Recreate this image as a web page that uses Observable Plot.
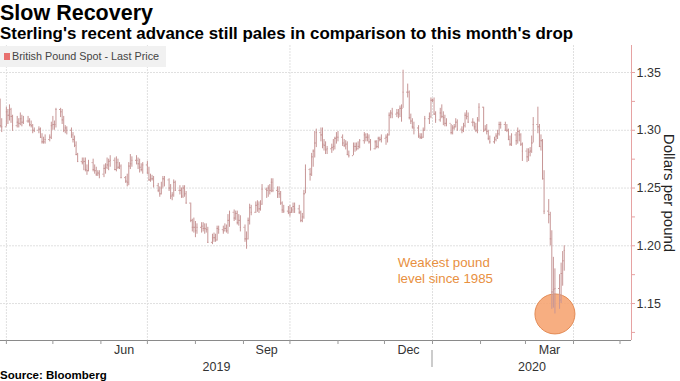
<!DOCTYPE html>
<html>
<head>
<meta charset="utf-8">
<script src="https://cdn.jsdelivr.net/npm/d3@7"></script>
<script src="https://cdn.jsdelivr.net/npm/@observablehq/plot@0.6"></script>
<style>
  html, body { margin: 0; padding: 0; background: #fff; }
  #wrap { position: relative; width: 680px; height: 381px; overflow: hidden; font-family: "Liberation Sans", Arial, sans-serif; color: #000; }
  #title { position: absolute; left: 0; top: 3px; font-weight: bold; font-size: 21.5px; line-height: 1; white-space: nowrap; }
  #sub { position: absolute; left: 0; top: 25.5px; font-weight: bold; font-size: 16.9px; line-height: 1; white-space: nowrap; }
  #chart { position: absolute; left: 0; top: 44px; }
  #legend { position: absolute; left: 0; top: 46px; width: 166px; height: 21px; background: #f1f1f1; font-size: 10.8px; line-height: 21px; color: #444; padding-left: 12px; box-sizing: border-box; white-space: nowrap; }
  #legend .sw { position: absolute; left: 4px; top: 7px; width: 6px; height: 7px; background: #e8706e; }
  #source { position: absolute; left: 0; top: 369px; font-weight: bold; font-size: 11.5px; line-height: 12px; white-space: nowrap; }
</style>
</head>
<body>
<div id="wrap">
  <div id="title">Slow Recovery</div>
  <div id="sub">Sterling's recent advance still pales in comparison to this month's drop</div>
  <div id="chart"></div>
  <div id="legend"><span class="sw"></span>British Pound Spot - Last Price</div>
  <div id="source">Source: Bloomberg</div>
</div>
<script>
// ---- Data: GBP/USD daily bars, weekdays 2019-03-28 .. 2020-03-26 ----
const firstOpen = 1.321;
const close = [
  1.304,1.303,
  1.316,1.313,1.318,1.312,1.304,
  1.307,1.306,1.310,1.307,1.308,
  1.308,1.305,1.304,1.300,1.300,
  1.301,1.294,1.290,1.290,1.292,
  1.294,1.304,1.305,1.305,1.318,
  1.316,1.309,1.300,1.302,1.300,
  1.296,1.292,1.287,1.279,1.273,
  1.272,1.273,1.266,1.265,1.272,
  1.266,1.265,1.262,1.263,1.262,
  1.267,1.268,1.270,1.273,1.274,
  1.266,1.272,1.268,1.269,1.259,
  1.256,1.255,1.269,1.271,1.274,
  1.274,1.271,1.268,1.266,1.270,
  1.263,1.257,1.258,1.258,1.252,
  1.248,1.245,1.250,1.258,1.257,
  1.250,1.243,1.244,1.255,1.248,
  1.248,1.243,1.250,1.245,1.237,
  1.222,1.216,1.216,1.213,1.216,
  1.217,1.215,1.215,1.214,1.203,
  1.207,1.207,1.205,1.215,1.214,
  1.213,1.215,1.213,1.222,1.229,
  1.224,1.228,1.220,1.222,1.216,
  1.206,1.206,1.222,1.233,1.229,
  1.235,1.236,1.232,1.236,1.249,
  1.248,1.250,1.248,1.255,1.248,
  1.247,1.245,1.237,1.231,1.230,
  1.229,1.229,1.231,1.234,1.232,
  1.229,1.222,1.225,1.245,1.266,
  1.262,1.277,1.282,1.289,1.298,
  1.296,1.288,1.287,1.283,1.284,
  1.285,1.286,1.293,1.294,1.294,
  1.289,1.287,1.288,1.279,1.278,
  1.286,1.286,1.284,1.286,1.291,
  1.296,1.294,1.294,1.290,1.284,
  1.290,1.286,1.293,1.292,1.293,
  1.294,1.296,1.313,1.315,1.314,
  1.315,1.314,1.319,1.319,1.333,
  1.333,1.311,1.308,1.303,1.302,
  1.295,1.294,1.294,1.300,1.310,
  1.312,1.326,1.326,1.314,1.309,
  1.315,1.312,1.311,1.306,1.306,
  1.298,1.302,1.303,1.307,1.301,
  1.300,1.304,1.313,1.312,1.307,
  1.307,1.303,1.300,1.309,1.320,
  1.300,1.301,1.299,1.293,1.290,
  1.292,1.295,1.297,1.305,1.305,
  1.300,1.300,1.292,1.288,1.296,
  1.291,1.299,1.296,1.288,1.282,
  1.277,1.281,1.282,1.289,1.305,
  1.303,1.286,1.291,1.258,1.230,
  1.227,1.206,1.160,1.162,1.163,
  1.153,1.176,1.187,1.196
];
const high = [
  1.327,1.310,
  1.320,1.318,1.322,1.319,1.313,
  1.312,1.310,1.315,1.313,1.312,
  1.312,1.310,1.308,1.305,1.302,
  1.303,1.302,1.297,1.294,1.296,
  1.296,1.307,1.312,1.308,1.319,
  1.319,1.318,1.312,1.304,1.303,
  1.302,1.298,1.295,1.290,1.280,
  1.276,1.276,1.276,1.270,1.274,
  1.275,1.270,1.268,1.265,1.265,
  1.270,1.271,1.276,1.275,1.278,
  1.276,1.277,1.275,1.272,1.270,
  1.260,1.262,1.272,1.279,1.277,
  1.278,1.276,1.275,1.271,1.272,
  1.273,1.268,1.262,1.261,1.260,
  1.254,1.251,1.255,1.260,1.260,
  1.258,1.253,1.246,1.257,1.256,
  1.252,1.250,1.252,1.252,1.247,
  1.237,1.223,1.224,1.221,1.219,
  1.220,1.220,1.219,1.219,1.216,
  1.210,1.211,1.210,1.217,1.217,
  1.217,1.219,1.218,1.227,1.230,
  1.231,1.230,1.230,1.227,1.226,
  1.218,1.212,1.224,1.236,1.235,
  1.238,1.239,1.238,1.239,1.253,
  1.250,1.252,1.253,1.258,1.258,
  1.251,1.251,1.247,1.238,1.235,
  1.234,1.235,1.233,1.237,1.237,
  1.235,1.230,1.228,1.248,1.270,
  1.267,1.280,1.283,1.299,1.301,
  1.302,1.302,1.292,1.290,1.286,
  1.288,1.292,1.294,1.298,1.299,
  1.296,1.292,1.291,1.290,1.282,
  1.289,1.289,1.289,1.290,1.292,
  1.298,1.297,1.297,1.296,1.292,
  1.291,1.291,1.294,1.294,1.296,
  1.296,1.297,1.315,1.317,1.319,
  1.318,1.318,1.321,1.322,1.352,
  1.340,1.334,1.314,1.310,1.307,
  1.304,1.297,1.297,1.302,1.312,
  1.315,1.328,1.327,1.328,1.316,
  1.319,1.322,1.316,1.313,1.310,
  1.305,1.304,1.305,1.310,1.309,
  1.303,1.306,1.315,1.317,1.315,
  1.310,1.307,1.306,1.311,1.323,
  1.320,1.304,1.305,1.300,1.295,
  1.294,1.297,1.300,1.307,1.307,
  1.307,1.305,1.301,1.295,1.297,
  1.298,1.302,1.300,1.297,1.289,
  1.284,1.284,1.285,1.295,1.311,
  1.320,1.305,1.296,1.292,1.265,
  1.240,1.229,1.213,1.190,1.180,
  1.175,1.185,1.195,1.200
];
const low = [
  1.302,1.298,
  1.303,1.305,1.308,1.306,1.299,
  1.302,1.302,1.304,1.303,1.305,
  1.306,1.303,1.302,1.297,1.298,
  1.297,1.293,1.288,1.288,1.288,
  1.290,1.292,1.300,1.300,1.302,
  1.311,1.305,1.298,1.297,1.296,
  1.293,1.289,1.285,1.278,1.272,
  1.270,1.265,1.264,1.261,1.264,
  1.264,1.262,1.260,1.260,1.258,
  1.259,1.262,1.266,1.265,1.268,
  1.265,1.264,1.266,1.266,1.258,
  1.254,1.251,1.252,1.266,1.268,
  1.270,1.266,1.263,1.264,1.262,
  1.262,1.256,1.255,1.256,1.250,
  1.246,1.242,1.244,1.250,1.251,
  1.247,1.240,1.239,1.242,1.247,
  1.244,1.241,1.241,1.242,1.236,
  1.220,1.212,1.211,1.207,1.210,
  1.211,1.212,1.210,1.211,1.202,
  1.201,1.203,1.203,1.204,1.210,
  1.210,1.212,1.211,1.210,1.216,
  1.221,1.222,1.218,1.217,1.212,
  1.203,1.197,1.205,1.218,1.226,
  1.228,1.229,1.228,1.230,1.235,
  1.241,1.242,1.244,1.246,1.246,
  1.241,1.241,1.235,1.228,1.228,
  1.227,1.225,1.228,1.228,1.228,
  1.227,1.220,1.220,1.223,1.245,
  1.256,1.260,1.268,1.276,1.285,
  1.290,1.284,1.282,1.279,1.279,
  1.280,1.282,1.283,1.288,1.290,
  1.286,1.285,1.283,1.278,1.276,
  1.278,1.281,1.282,1.283,1.284,
  1.288,1.290,1.290,1.288,1.282,
  1.283,1.284,1.284,1.290,1.289,
  1.287,1.289,1.295,1.310,1.310,
  1.311,1.310,1.311,1.307,1.319,
  1.328,1.309,1.305,1.301,1.296,
  1.293,1.292,1.292,1.293,1.299,
  1.305,1.310,1.324,1.313,1.306,
  1.307,1.310,1.304,1.303,1.303,
  1.296,1.296,1.300,1.302,1.299,
  1.297,1.298,1.302,1.309,1.306,
  1.303,1.300,1.298,1.297,1.307,
  1.298,1.299,1.296,1.291,1.288,
  1.288,1.290,1.292,1.295,1.301,
  1.299,1.298,1.291,1.286,1.286,
  1.287,1.288,1.290,1.286,1.273,
  1.272,1.273,1.277,1.280,1.289,
  1.297,1.285,1.282,1.257,1.227,
  1.219,1.200,1.145,1.146,1.141,
  1.145,1.150,1.165,1.178
];

// Axis ticks and labels
const yTicks = [1.15, 1.20, 1.25, 1.30, 1.35];
const yMinorTicks = [1.125, 1.175, 1.225, 1.275, 1.325];
const monthLabelMonths = ["2019-06", "2019-09", "2019-12", "2020-03"];
const yearLabels = ["2019", "2020"];
const yLabel = "Dollars per pound";
const annotation = "Weakest pound\nlevel since 1985";

// ---- Build table ----
const dates = d3.utcDay.range(new Date(Date.UTC(2019, 2, 28)), new Date(Date.UTC(2020, 2, 27)))
  .filter(d => d.getUTCDay() !== 0 && d.getUTCDay() !== 6);
if (dates.length !== close.length || high.length !== close.length || low.length !== close.length)
  console.error("length mismatch", dates.length, close.length, high.length, low.length);
const bars = dates.map((date, i) => ({
  date, open: i ? close[i - 1] : firstOpen, high: high[i], low: low[i], close: close[i]
}));
const lowest = bars.reduce((a, b) => (b.low < a.low ? b : a));

const xDomain = [new Date("2019-03-28T05:00Z"), new Date("2020-05-08T10:00Z")];
const yDomain = [1.118, 1.3734];
const monthStarts = d3.utcMonth.range(d3.utcMonth.ceil(xDomain[0]), xDomain[1]);
const quarterStarts = monthStarts.filter(d => d.getUTCMonth() % 3 === 0);
const monthMids = monthLabelMonths.map(s => {
  const a = new Date(s + "-01T00:00Z"), b = d3.utcMonth.offset(a, 1);
  return new Date((+a + +b) / 2);
});
const yearMids = yearLabels.map(y => {
  const a = new Date(Math.max(+xDomain[0], Date.UTC(+y, 0, 1)));
  const b = new Date(Math.min(+xDomain[1], Date.UTC(+y + 1, 0, 1)));
  return new Date((+a + +b) / 2);
});

const barColor = "#c79696";
const axisRed = "#e6a2a2";
const grid = "#e0e0e0";
const half = 16 * 3600e3;

const plot = Plot.plot({
  width: 680, height: 328,
  marginTop: 1, marginBottom: 32, marginLeft: 0, marginRight: 49,
  style: { fontFamily: "'Liberation Sans', Arial, sans-serif", fontSize: "12.5px", color: "#333", background: "transparent" },
  x: { type: "utc", domain: xDomain },
  y: { domain: yDomain },
  marks: [
    Plot.ruleY(yTicks, { stroke: grid, strokeDasharray: "2,1" }),
    Plot.ruleX(quarterStarts, { stroke: grid, strokeDasharray: "2,1" }),
    Plot.ruleY([yDomain[0]], { stroke: "#8a8a8a" }),
    Plot.axisX(monthStarts, { tickSize: 4, tickFormat: () => "", stroke: "#999", label: null }),
    Plot.text(monthMids, { x: d => d, text: (d) => d3.utcFormat("%b")(d), frameAnchor: "bottom", dy: 9, lineAnchor: "middle", fill: "#333" }),
    Plot.text(yearMids, { x: d => d, text: (d, i) => yearLabels[i], frameAnchor: "bottom", dy: 26, lineAnchor: "middle", fill: "#333" }),
    Plot.ruleX([xDomain[1]], { stroke: axisRed }),
    Plot.axisY(yTicks, { anchor: "right", tickSize: 3, tickPadding: 2, tickFormat: d3.format(".2f"), stroke: axisRed, fill: "#333", label: null }),
    Plot.axisY(yMinorTicks, { anchor: "right", tickSize: 3, tickFormat: () => "", stroke: axisRed, label: null }),
    Plot.text([yLabel], { frameAnchor: "right", dx: 37, rotate: 90, fontSize: 15, fill: "#222", textAnchor: "middle", lineAnchor: "middle" }),
    Plot.dot([lowest], { x: "date", y: "low", r: 20, fill: "#f6a36f", fillOpacity: 0.88, stroke: "#e38b55", strokeWidth: 1 }),
    Plot.ruleX(bars, { x: "date", y1: "low", y2: "high", stroke: barColor, strokeWidth: 1, clip: true }),
    Plot.ruleY(bars, { y: "open", x1: d => new Date(+d.date - half), x2: "date", stroke: barColor, clip: true }),
    Plot.ruleY(bars, { y: "close", x1: "date", x2: d => new Date(+d.date + half), stroke: barColor, clip: true }),
    Plot.text([annotation], { x: new Date("2019-12-09T12:00Z"), y: 1.1790, textAnchor: "start", lineAnchor: "middle", lineHeight: 1.2, fontSize: 13.3, fill: "#e8903f" })
  ]
});
document.getElementById("chart").appendChild(plot);

// year separator tick below the axis at the start of 2020
const xs = plot.scale("x");
const sx = xs.apply(new Date(Date.UTC(2020, 0, 1)));
d3.select(plot).append("line")
  .attr("x1", sx).attr("x2", sx).attr("y1", 306).attr("y2", 323)
  .attr("stroke", "#999");
</script>
</body>
</html>
